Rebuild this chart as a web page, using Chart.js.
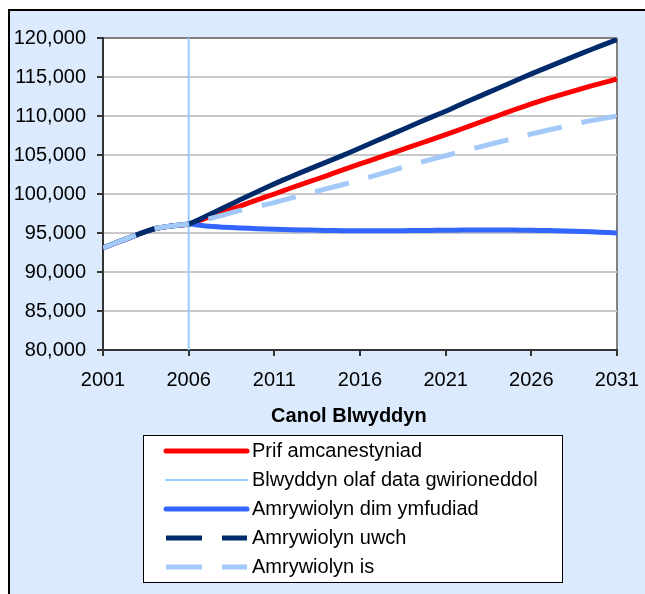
<!DOCTYPE html>
<html>
<head>
<meta charset="utf-8">
<script src="https://cdn.jsdelivr.net/npm/chart.js@4"></script>
<style>
    html, body { margin: 0; padding: 0; background: #fff; }
</style>
</head>
<body>
<canvas id="popChart" width="645" height="594"></canvas>
<script>
// actual mid-year estimates
const actualYears = [2001, 2002, 2003, 2004, 2005, 2006];
const actualPop = [93100, 93950, 94800, 95550, 95900, 96150];

// projection years 2007-2031
const projYears = [2007, 2008, 2009, 2010, 2011, 2012, 2013, 2014, 2015, 2016,
    2017, 2018, 2019, 2020, 2021, 2022, 2023, 2024, 2025, 2026,
    2027, 2028, 2029, 2030, 2031];
const mainProj = [96900, 97700, 98450, 99250, 100000, 100800, 101550, 102300, 103100, 103850,
    104600, 105350, 106100, 106850, 107600, 108400, 109200, 110000, 110800, 111550,
    112250, 112900, 113550, 114150, 114750];
const noMigration = [95900, 95750, 95650, 95550, 95480, 95420, 95370, 95330, 95300, 95280,
    95280, 95290, 95310, 95330, 95360, 95370, 95380, 95380, 95370, 95350,
    95310, 95260, 95190, 95100, 95000];
const highVariant = [97150, 98200, 99250, 100300, 101300, 102250, 103150, 104050, 104950, 105900,
    106850, 107800, 108750, 109700, 110600, 111600, 112550, 113500, 114450, 115400,
    116300, 117200, 118100, 118950, 119800];
const lowVariant = [96700, 97300, 97900, 98400, 98900, 99500, 100050, 100650, 101200, 101800,
    102450, 103100, 103750, 104350, 104900, 105500, 106050, 106600, 107150, 107700,
    108200, 108700, 109200, 109600, 110000];

const lastActualYear = 2006;
const xTickYears = [2001, 2006, 2011, 2016, 2021, 2026, 2031];
const yTicks = [80000, 85000, 90000, 95000, 100000, 105000, 110000, 115000, 120000];

const seriesLabels = [
    'Prif amcanestyniad',
    'Blwyddyn olaf data gwirioneddol',
    'Amrywiolyn dim ymfudiad',
    'Amrywiolyn uwch',
    'Amrywiolyn is'
];

const FONT = '"Liberation Sans", Arial, sans-serif';

function toPoints(values) {
    let years = actualYears.concat(projYears);
    let all = actualPop.concat(values);
    return years.map((yr, i) => ({ x: yr, y: all[i] }));
}

const yMin = yTicks[0];
const yMax = yTicks[yTicks.length - 1];
const xMin = xTickYears[0];
const xMax = xTickYears[xTickYears.length - 1];

// background, plot area and the boxed legend
const framePlugin = {
    id: 'framePlugin',
    beforeDraw(chart) {
        let ctx = chart.ctx;
        let a = chart.chartArea;
        ctx.save();
        ctx.fillStyle = '#ffffff';
        ctx.fillRect(0, 0, chart.width, chart.height);
        ctx.fillStyle = '#dbeafc';
        ctx.fillRect(9, 10, chart.width, chart.height);
        ctx.strokeStyle = '#000000';
        ctx.lineWidth = 2;
        ctx.beginPath();
        ctx.moveTo(9, chart.height);
        ctx.lineTo(9, 10);
        ctx.lineTo(chart.width, 10);
        ctx.stroke();
        ctx.fillStyle = '#ffffff';
        ctx.fillRect(a.left, a.top, a.right - a.left, a.bottom - a.top);
        ctx.restore();
    },
    afterDraw(chart) {
        let ctx = chart.ctx;
        let box = { x: 143, y: 435, w: 419, h: 147 };
        ctx.save();
        ctx.fillStyle = '#ffffff';
        ctx.fillRect(box.x, box.y, box.w, box.h);
        ctx.strokeStyle = '#000000';
        ctx.lineWidth = 1;
        ctx.strokeRect(box.x + 0.5, box.y + 0.5, box.w, box.h);
        ctx.font = '20px ' + FONT;
        ctx.textBaseline = 'middle';
        chart.data.datasets.forEach((ds, i) => {
            let y = 451 + i * 29;
            ctx.strokeStyle = ds.borderColor;
            ctx.lineWidth = ds.borderWidth;
            ctx.setLineDash(ds.legendDash || []);
            ctx.lineCap = ds.legendDash ? 'butt' : 'round';
            ctx.beginPath();
            ctx.moveTo(166, y);
            ctx.lineTo(247, y);
            ctx.stroke();
            ctx.setLineDash([]);
            ctx.fillStyle = '#000000';
            ctx.fillText(ds.label, 252, y);
        });
        ctx.restore();
    }
};

let chart = new Chart(document.getElementById('popChart'), {
    type: 'line',
    data: {
        datasets: [{
            label: seriesLabels[0],
            data: toPoints(mainProj),
            borderColor: '#ff0000',
            borderWidth: 5,
            order: 4,
        }, {
            label: seriesLabels[1],
            data: [{ x: lastActualYear, y: yMin }, { x: lastActualYear, y: yMax }],
            borderColor: '#99ccff',
            borderWidth: 2,
            order: 3,
        }, {
            label: seriesLabels[2],
            data: toPoints(noMigration),
            borderColor: '#3366ff',
            borderWidth: 5,
            order: 2,
        }, {
            label: seriesLabels[3],
            data: toPoints(highVariant),
            borderColor: '#002b6b',
            borderWidth: 5,
            legendDash: [36, 20],
            order: 1,
        }, {
            label: seriesLabels[4],
            data: toPoints(lowVariant),
            borderColor: '#a3c9f9',
            borderWidth: 5,
            borderDash: [35, 20],
            legendDash: [36, 20],
            order: 0,
        }]
    },
    options: {
        responsive: false,
        animation: false,
        elements: {
            point: { radius: 0 },
            line: { tension: 0.2, fill: false, borderCapStyle: 'butt' }
        },
        layout: {
            padding: { left: 9, top: 38, right: 28, bottom: 154 }
        },
        plugins: {
            legend: { display: false },
            tooltip: { enabled: false },
        },
        scales: {
            x: {
                type: 'linear',
                min: xMin,
                max: xMax,
                afterBuildTicks: (scale) => {
                    scale.ticks = xTickYears.map(v => ({ value: v }));
                },
                afterFit: (scale) => {
                    scale.height = 90;
                    scale.paddingLeft = 0;
                    scale.paddingRight = 0;
                },
                grid: {
                    color: (c) => (c.tick && c.tick.value === xMax) ? '#808080' : 'rgba(0,0,0,0)',
                    tickColor: '#333333',
                    lineWidth: 2,
                    tickLength: 6,
                },
                border: { color: '#333333', width: 2 },
                ticks: {
                    color: '#000000',
                    font: { family: FONT, size: 20 },
                    padding: 12,
                    maxRotation: 0,
                    callback: (v) => String(v),
                },
                title: {
                    display: true,
                    text: 'Canol Blwyddyn    ',
                    color: '#000000',
                    font: { family: FONT, size: 20, weight: 'bold' },
                    padding: { top: 0, bottom: 12 },
                },
            },
            y: {
                min: yMin,
                max: yMax,
                afterFit: (scale) => {
                    scale.width = 94;
                    scale.paddingTop = 0;
                    scale.paddingBottom = 0;
                },
                grid: {
                    color: (c) => (c.tick && c.tick.value === yMax) ? '#808080' : '#c8c8c8',
                    tickColor: '#333333',
                    lineWidth: 2,
                    tickLength: 6,
                },
                border: { color: '#333333', width: 2 },
                ticks: {
                    stepSize: 5000,
                    color: '#000000',
                    font: { family: FONT, size: 20 },
                    padding: 11,
                },
            },
        }
    },
    plugins: [framePlugin]
});
</script>
</body>
</html>
